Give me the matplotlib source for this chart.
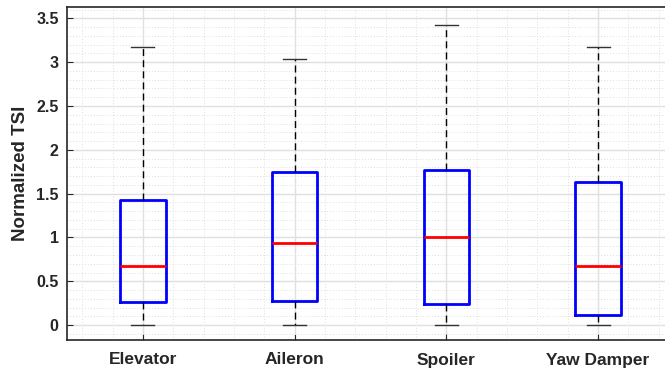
import matplotlib
matplotlib.use("Agg")
import matplotlib.pyplot as plt
from matplotlib.ticker import MultipleLocator

plt.rcParams["font.family"] = ["Liberation Sans", "DejaVu Sans"]
plt.rcParams["font.weight"] = "bold"

# Box statistics
categories = ["Elevator", "Aileron", "Spoiler", "Yaw Damper"]
whisker_low = [0.0, 0.0, 0.0, 0.0]
q1 = [0.26, 0.28, 0.24, 0.12]
median = [0.68, 0.94, 1.00, 0.68]
q3 = [1.43, 1.75, 1.77, 1.63]
whisker_high = [3.17, 3.04, 3.43, 3.17]

stats = [
    {"label": c, "whislo": lo, "q1": a, "med": m, "q3": b, "whishi": hi, "fliers": []}
    for c, lo, a, m, b, hi in zip(categories, whisker_low, q1, median, q3, whisker_high)
]

fig = plt.figure(figsize=(6.65, 3.71), dpi=100)
ax = fig.add_axes([67 / 665, 31 / 371, 607 / 665, 333 / 371])

ax.bxp(
    stats,
    positions=range(1, len(categories) + 1),
    widths=0.3,
    boxprops=dict(color="#0000ff", linewidth=2),
    medianprops=dict(color="#ff0000", linewidth=2),
    whiskerprops=dict(color="black", linewidth=1, linestyle=(0, (5, 3))),
    capprops=dict(color="#333333", linewidth=1),
    capwidths=0.15,
    showfliers=False,
)

ax.set_xlim(0.5, 4.5)
ax.set_ylim(-0.17, 3.63)
ax.yaxis.set_minor_locator(MultipleLocator(0.1))
ax.xaxis.set_minor_locator(MultipleLocator(0.2))
ax.set_yticks([0, 0.5, 1, 1.5, 2, 2.5, 3, 3.5])
ax.set_yticklabels(["0", "0.5", "1", "1.5", "2", "2.5", "3", "3.5"])
ax.set_xticks(range(1, len(categories) + 1))
ax.set_xticklabels(categories)

ax.grid(which="major", color="#e0e0e0", linewidth=1.0, linestyle="-")
ax.grid(which="minor", color="#dedede", linewidth=0.7, linestyle=(0, (1, 2)))
ax.set_axisbelow(True)

ax.tick_params(which="major", direction="in", length=4, width=0.8, colors="#262626",
               labelsize=11.5, pad=6)
ax.tick_params(axis="x", which="major", labelsize=12.5, pad=9)
ax.tick_params(which="minor", length=0)
for lbl in ax.get_xticklabels() + ax.get_yticklabels():
    lbl.set_fontweight("bold")

for spine in ax.spines.values():
    spine.set_color("#262626")
    spine.set_linewidth(1.2)

ax.set_ylabel("Normalized TSI", fontsize=13.5, fontweight="bold", color="#262626", labelpad=5)

fig.savefig("out.png", dpi=100)
